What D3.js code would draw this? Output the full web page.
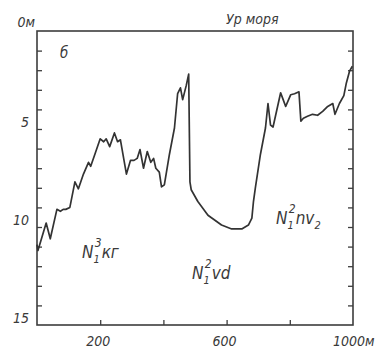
<!DOCTYPE html>
<html>
<head>
<meta charset="utf-8">
<script src="https://cdn.jsdelivr.net/npm/d3@7"></script>
<style>
  body { margin: 0; background: #fff; }
  text { font-family: "Liberation Sans Narrow", "DejaVu Sans Condensed", "Liberation Sans", sans-serif; font-style: italic; fill: #3a3a3a; }
</style>
</head>
<body>
<svg id="chart" width="381" height="354"></svg>
<script>
// profile: distance along line (m) and depth below sea level (m)
const distance = [0, 3, 29, 42, 63, 74, 83, 91, 104, 120, 131, 147, 163, 170, 184, 200, 211, 219, 230, 245, 255, 264,
  283, 296, 307, 317, 326, 337, 349, 360, 369, 376, 387, 394, 403, 419, 435, 445, 454, 461, 472, 480,
  484, 488, 509, 541, 584, 616, 648, 669, 680, 685, 691, 707, 723, 731,
  739, 747, 771, 779, 787, 803, 815, 829, 835, 843, 856, 872, 888, 904, 920, 936, 943, 957, 971, 979, 989, 998];
const depth = [10.9, 11.2, 9.8, 10.6, 9.1, 9.2, 9.1, 9.1, 9.0, 7.7, 8.05, 7.3, 6.7, 6.9, 6.25, 5.5, 5.65, 5.5, 5.9, 5.2, 5.65, 5.55,
  7.3, 6.6, 6.6, 6.5, 6.05, 7.0, 6.15, 6.7, 6.5, 7.0, 7.2, 7.95, 7.85, 6.3, 4.95, 3.2, 2.9, 3.5, 2.8, 2.2,
  7.7, 8.1, 8.7, 9.4, 9.9, 10.1, 10.1, 9.9, 9.55, 8.7, 8.0, 6.3, 4.95, 3.7,
  4.8, 4.9, 3.15, 3.5, 3.85, 3.25, 3.2, 3.1, 4.6, 4.45, 4.35, 4.25, 4.3, 4.1, 3.85, 3.7, 4.25, 3.7, 3.3, 2.65, 2.05, 1.8];

const depthLabels = [5, 10, 15];
const distLabels = [200, 600];
const distTicks = [200, 400, 600, 800];

const svg = d3.select("#chart");
const ink = "#3d3d3d";

const x = d3.scaleLinear().domain([0, 1000]).range([37, 353]);
const y = d3.scaleLinear().domain([0, 15]).range([31, 325]);

// frame
svg.append("rect")
    .attr("x", x(0)).attr("y", y(0))
    .attr("width", x(1000) - x(0)).attr("height", y(15) - y(0))
    .attr("fill", "none").attr("stroke", ink).attr("stroke-width", 1.6);

// inward ticks
const leftAxis = svg.append("g").attr("transform", `translate(${x(0)},0)`)
    .call(d3.axisLeft(y).tickValues(d3.range(1, 15)).tickSize(-5).tickFormat(""));
const rightAxis = svg.append("g").attr("transform", `translate(${x(1000)},0)`)
    .call(d3.axisRight(y).tickValues(d3.range(1, 15)).tickSize(-5).tickFormat(""));
const bottomAxis = svg.append("g").attr("transform", `translate(0,${y(15)})`)
    .call(d3.axisBottom(x).tickValues(distTicks).tickSize(-5).tickFormat(""));
[leftAxis, rightAxis, bottomAxis].forEach(g => {
    g.select(".domain").remove();
    g.selectAll("line").attr("stroke", ink).attr("stroke-width", 1.3);
});

// tick labels
svg.append("text").attr("x", x(0) - 2).attr("y", y(0) - 4)
    .attr("text-anchor", "end").style("font-size", "14px").text("0м");
svg.selectAll(".ylab").data(depthLabels).enter().append("text")
    .attr("x", x(0) - 8).attr("y", d => y(d) - 2)
    .attr("text-anchor", "end").style("font-size", "14px").text(d => d);
svg.selectAll(".xlab").data(distLabels).enter().append("text")
    .attr("x", d => x(d) - 2).attr("y", y(15) + 21)
    .attr("text-anchor", "middle").style("font-size", "14px").text(d => d);
svg.append("text").attr("x", x(1000) - 20).attr("y", y(15) + 21)
    .style("font-size", "14px").text("1000м");

svg.append("text").attr("x", 226).attr("y", 24).style("font-size", "14px").text("Ур моря");
svg.append("text").attr("x", 60).attr("y", 58).style("font-size", "15px").text("б");

// profile line
const line = d3.line().x((d, i) => x(distance[i])).y(d => y(d));
svg.append("path").datum(depth)
    .attr("d", line)
    .attr("fill", "none").attr("stroke", "#333").attr("stroke-width", 1.7)
    .attr("stroke-linejoin", "round");

// formation labels
function formation(px, py, sup, rest, sub2) {
    const t = svg.append("text").attr("x", px).attr("y", py).style("font-size", "17px");
    t.append("tspan").text("N");
    t.append("tspan").attr("dy", 5).style("font-size", "11px").text("1");
    t.append("tspan").attr("dx", -5).attr("dy", -16).style("font-size", "12px").text(sup);
    t.append("tspan").attr("dy", 11).text(rest);
    if (sub2) t.append("tspan").attr("dy", 5).style("font-size", "11px").text(sub2);
}
formation(82, 258, "3", "кг");
formation(192, 279, "2", "vd");
formation(276, 224, "2", "nv", "2");
</script>
</body>
</html>
